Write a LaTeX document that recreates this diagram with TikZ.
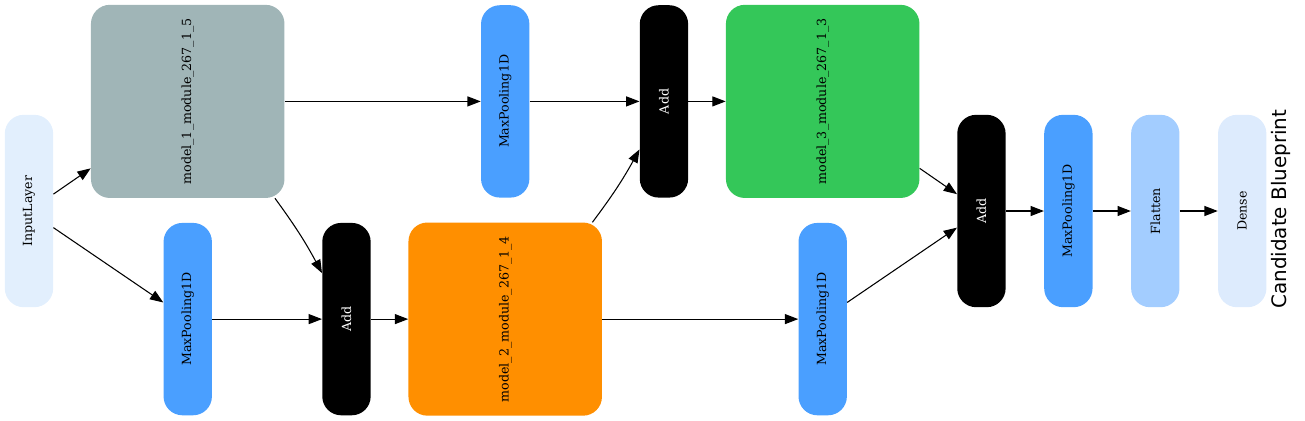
\documentclass[tikz,border=0pt]{standalone}
\usepackage{fontspec}
\setmainfont{DejaVu Serif}
\newfontfamily\bpfont{DejaVu Sans}
\usepackage{tikz}
\usetikzlibrary{arrows.meta, positioning, calc}

\definecolor{inputblue}{HTML}{E2EFFD}
\definecolor{poolblue}{HTML}{4A9FFF}
\definecolor{flatblue}{HTML}{A3CDFF}
\definecolor{denseblue}{HTML}{DDEBFD}
\definecolor{modgray}{HTML}{A0B5B7}
\definecolor{modorange}{HTML}{FF8F00}
\definecolor{modgreen}{HTML}{34C759}

\newcommand{\vlabel}[1]{\rotatebox{90}{#1}}

\tikzset{
  layer/.style={rectangle, rounded corners=0.5cm, minimum width=1.28cm, minimum height=5.09cm, inner sep=0pt,
                text centered, font=\fontsize{9.5}{11}\selectfont},
  module/.style={rectangle, rounded corners=0.5cm, minimum width=5.12cm, minimum height=5.11cm, inner sep=0pt,
                text centered, font=\fontsize{9.5}{11}\selectfont},
  inputlayer/.style={layer, fill=inputblue},
  maxpool/.style={layer, fill=poolblue},
  addop/.style={layer, fill=black, text=white},
  flattenlayer/.style={layer, fill=flatblue},
  denselayer/.style={layer, fill=denseblue},
  bptitle/.style={inner sep=0pt, font=\bpfont\fontsize{15}{17}\selectfont},
  arrow/.style={line width=0.8pt, -{Triangle[length=10pt, width=7.5pt]}}
}

\begin{document}
\begin{tikzpicture}[node distance=4.2cm]

% Nodes
\node (in) [inputlayer] {\vlabel{InputLayer}};
\node (m1) [module, fill=modgray, right of=in, yshift=2.9cm] {\vlabel{model\_1\_module\_267\_1\_5}};
\node (mp1) [maxpool, right of=in, yshift=-2.86cm] {\vlabel{MaxPooling1D}};
\node (add1) [addop, right of=mp1] {\vlabel{Add}};
\node (m2) [module, fill=modorange, right of=add1] {\vlabel{model\_2\_module\_267\_1\_4}};
\node (mp2) [maxpool, right of=m1, xshift=4.2cm] {\vlabel{MaxPooling1D}};
\node (add2) [addop, right of=mp2] {\vlabel{Add}};
\node (m3) [module, fill=modgreen, right of=add2] {\vlabel{model\_3\_module\_267\_1\_3}};
\node (mp3) [maxpool, right of=m2, xshift=4.2cm] {\vlabel{MaxPooling1D}};
\node (add3) [addop, right of=m3, yshift=-2.9cm] {\vlabel{Add}};
\node (mp4) [maxpool, node distance=2.3cm, right of=add3] {\vlabel{MaxPooling1D}};
\node (flat) [flattenlayer, node distance=2.3cm, right of=mp4] {\vlabel{Flatten}};
\node (dense) [denselayer, node distance=2.3cm, right of=flat] {\vlabel{Dense}};
\node (title) [bptitle, node distance=1.03cm, right of=dense, yshift=0.05cm] {\vlabel{Candidate Blueprint}};

% Arrows
\draw [arrow] (in) -- (m1);
\draw [arrow] (in) -- (mp1);
\draw [arrow] (mp1) -- (add1);
\draw [arrow] (m1.-48) to[bend left=4] (add1.118);
\draw [arrow] (add1) -- (m2);
\draw [arrow] (m1) -- (mp2);
\draw [arrow] (mp2) -- (add2);
\draw [arrow] (m2.48) to[bend right=4] (add2.-117);
\draw [arrow] (add2) -- (m3);
\draw [arrow] (m2) -- (mp3);
\draw [arrow] (m3) -- (add3);
\draw [arrow] (mp3) -- (add3);
\draw [arrow] (add3) -- (mp4);
\draw [arrow] (mp4) -- (flat);
\draw [arrow] (flat) -- (dense);

\useasboundingbox (in.center) ++(-0.767,5.583) rectangle ++(34.528,-11.139);
\end{tikzpicture}
\end{document}
